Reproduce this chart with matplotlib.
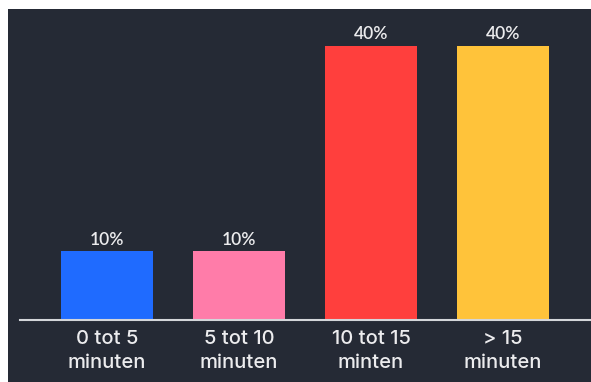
import matplotlib.pyplot as plt
from matplotlib.patches import Rectangle

# data
categories = ['0 tot 5\nminuten', '5 tot 10\nminuten', '10 tot 15\nminten', '> 15\nminuten']
values = [10, 10, 40, 40]
labels = ['10%', '10%', '40%', '40%']
colors = ['#1f6bff', '#ff7ca9', '#ff3f3d', '#ffc33a']

bg = '#252a35'
W, H = 591, 382

fig = plt.figure(figsize=(W / 100, H / 100), dpi=100)
fig.patch.set_facecolor('white')
fig.patches.append(Rectangle((8 / W, 0), 1 - 8 / W, 1 - 9 / H, transform=fig.transFigure,
                             facecolor=bg, edgecolor='none', zorder=-1))

ax = fig.add_axes([20 / W, 62 / H, 570 / W, 311 / H])
ax.set_facecolor('none')

x = range(len(categories))
bars = ax.bar(x, values, width=0.697, color=colors, zorder=2)

for b, lab in zip(bars, labels):
    ax.text(b.get_x() + b.get_width() / 2, b.get_height() + 0.55, lab,
            ha='center', va='bottom', color='#ececee', fontsize=12.5,
            family='Lato', weight='semibold')

ax.set_xlim(-0.659, 3.659)
ax.set_ylim(0, 45.4)
ax.set_xticks(list(x))
ax.set_xticklabels(categories, color='#ececee', fontsize=14.5, family='Inter',
                   weight='medium', linespacing=1.38)
ax.tick_params(axis='x', length=0, pad=7.5)
ax.set_yticks([])
for s in ['top', 'right', 'left']:
    ax.spines[s].set_visible(False)
ax.spines['bottom'].set_color('#d4d6da')
ax.spines['bottom'].set_linewidth(1.5)

fig.savefig('out.png', dpi=100, facecolor=fig.get_facecolor())
